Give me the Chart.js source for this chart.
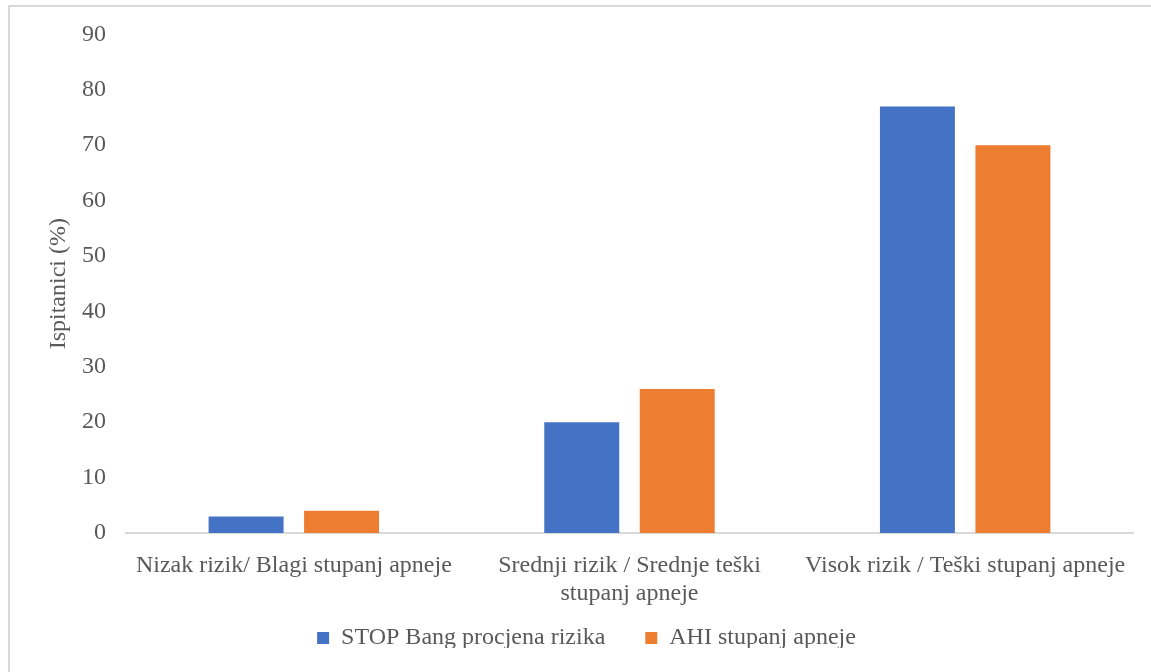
<!DOCTYPE html>
<html>
<head>
<meta charset="utf-8">
<script src="https://cdn.jsdelivr.net/npm/chart.js@4"></script>
<style>
  body { margin: 0; background: #fff; }
  #wrap { position: relative; width: 1151px; height: 672px; overflow: hidden; }
  #frame { position: absolute; left: 8px; top: 5px; width: 1160px; height: 700px;
           border: 2px solid #d9d9d9; pointer-events: none; }
</style>
</head>
<body>
<div id="wrap">
  <canvas id="chart"></canvas>
  <div id="frame"></div>
</div>
<script>
// kategorije i vrijednosti (%)
const categories = [
    'Nizak rizik/ Blagi stupanj apneje',
    ['Srednji rizik / Srednje teški', 'stupanj apneje'],
    'Visok rizik / Teški stupanj apneje'
];
const stopBang = [3, 20, 77];
const ahi = [4, 26, 70];
const yTicks = [0, 10, 20, 30, 40, 50, 60, 70, 80, 90];

const FONT = '"Liberation Serif", "Times New Roman", serif';
const FONT_SIZE = 24;
const TEXT = '#595959';

// legenda: fiksna visina i pomak prema gore (veći razmak između stavki)
const legendFitPlugin = {
    id: 'legendFit',
    beforeInit(chart) {
        const fit = chart.legend.fit;
        chart.legend.fit = function () {
            fit.bind(chart.legend)();
            this.height = 62;
        };
    },
    afterLayout(chart) {
        chart.legend.top -= 24;
        chart.legend.bottom -= 24;
    }
};

new Chart(document.getElementById('chart'), {
    type: 'bar',
    data: {
        labels: categories,
        datasets: [
            {
                label: 'STOP Bang procjena rizika',
                data: stopBang,
                backgroundColor: '#4472C4',
                categoryPercentage: 0.569,
                barPercentage: 0.785
            },
            {
                label: 'AHI stupanj apneje',
                data: ahi,
                backgroundColor: '#ED7D31',
                categoryPercentage: 0.569,
                barPercentage: 0.785
            }
        ]
    },
    options: {
        responsive: true,
        maintainAspectRatio: false,
        animation: false,
        layout: { padding: { left: 40, top: 33, right: 18, bottom: 0 } },
        scales: {
            x: {
                grid: { display: false, drawTicks: false },
                border: { color: '#d9d9d9', width: 2 },
                ticks: {
                    color: TEXT,
                    font: { family: FONT, size: FONT_SIZE },
                    padding: 18,
                    maxRotation: 0,
                    autoSkip: false
                },
                afterFit(scale) { scale.height = 77; }
            },
            y: {
                min: 0,
                max: 90,
                afterBuildTicks(scale) { scale.ticks = yTicks.map(v => ({ value: v })); },
                grid: { display: false, drawTicks: false },
                border: { display: false },
                ticks: {
                    color: TEXT,
                    font: { family: FONT, size: FONT_SIZE },
                    padding: 20
                },
                title: {
                    display: true,
                    text: 'Ispitanici (%)',
                    color: TEXT,
                    font: { family: FONT, size: FONT_SIZE },
                    padding: { top: 4, bottom: 4 }
                },
                afterFit(scale) { scale.width = 86; }
            }
        },
        plugins: {
            legend: {
                position: 'bottom',
                labels: {
                    color: TEXT,
                    font: { family: FONT, size: FONT_SIZE },
                    boxWidth: 12,
                    boxHeight: 12,
                    padding: 40
                }
            },
            tooltip: { enabled: false }
        }
    },
    plugins: [legendFitPlugin]
});
</script>
</body>
</html>
